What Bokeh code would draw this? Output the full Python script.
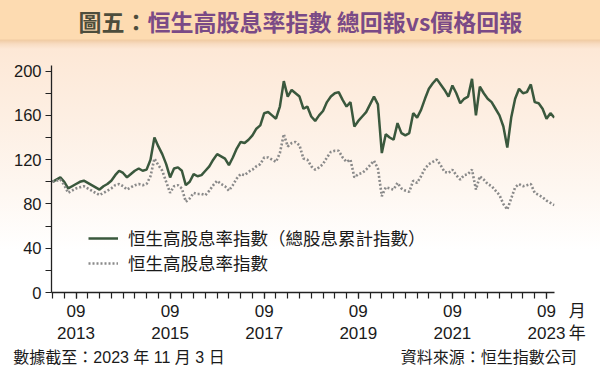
from bokeh.plotting import figure
from bokeh.models import (FixedTicker, Label, Legend, LegendItem,
                          ColumnDataSource, Range1d)
from bokeh.embed import file_html
from bokeh.resources import INLINE

# month index: 0 = Jan 2013
months = list(range(2, 131))

total_return = [
    100, 102, 104, 100, 94, 96, 98, 100, 101, 99,
    97, 95, 93, 96, 98, 101, 106, 110, 108, 104,
    107, 110, 112, 110, 111, 120, 140, 132, 125, 116,
    104, 112, 113, 110, 97, 100, 107, 105, 106, 110,
    114, 120, 125, 123, 121, 115, 122, 130, 136, 135,
    138, 142, 148, 151, 162, 163, 160, 157, 168, 191,
    177, 183, 180, 177, 166, 168, 159, 155, 160, 164,
    172, 177, 180, 181, 174, 168, 172, 150, 155, 159,
    163, 170, 177, 170, 126, 143, 140, 138, 153, 144,
    142, 144, 162, 158, 165, 175, 184, 189, 193, 188,
    183, 177, 187, 180, 171, 175, 177, 193, 160, 186,
    180, 175, 172, 166, 160, 150, 131, 158, 175, 184,
    180, 181, 188, 172, 171, 166, 157, 162, 158,
]

price_index = [
    100, 101, 102, 97, 90, 92, 94, 95, 96, 94,
    92, 90, 88, 90, 92, 94, 97, 98, 96, 93,
    95, 97, 98, 97, 98, 105, 121, 115, 110, 100,
    90, 96, 97, 94, 82, 85, 90, 89, 89, 88,
    92, 97, 101, 98, 96, 92, 97, 103, 107, 106,
    109, 111, 114, 116, 122, 122, 120, 118, 126, 143,
    132, 135, 136, 133, 121, 120, 114, 111, 113, 116,
    122, 127, 128, 128, 122, 118, 120, 104, 107, 108,
    111, 115, 119, 112, 87, 95, 94, 93, 99, 94,
    92, 91, 101, 99, 105, 112, 116, 118, 120, 115,
    109, 108, 111, 106, 102, 106, 107, 111, 93, 105,
    102, 98, 96, 92, 88, 80, 75, 85, 95, 98,
    96, 97, 98, 90, 88, 86, 83, 81, 79,
]

x_ticks = [8, 32, 56, 80, 104, 128]
x_tick_labels = ["09\n2013", "09\n2015", "09\n2017", "09\n2019", "09\n2021",
                 "\u2003\u2002\u200509\u2002\u2005月\n\u2003\u20092023\u2009年"]
x_minor = list(range(2, 131, 3))
y_ticks = [0, 40, 80, 120, 160, 200]
y_minor = [20, 60, 100, 140, 180]

series_names = ["恒生高股息率指數（總股息累計指數）", "恒生高股息率指數"]
title_prefix = "圖五："
title_main = "恒生高股息率指數 總回報vs價格回報"
footer_left = "數據截至：2023 年 11 月 3 日"
footer_right = "資料來源：恒生指數公司"
footer = footer_left + "\u3000" * 10 + "\u2002\u2002" + footer_right + "\u3000"

W, H = 600, 376
p = figure(width=W, height=H, output_backend="svg", toolbar_location=None,
           x_range=Range1d(1.75, 130.04), y_range=Range1d(0, 263.8),
           min_border_left=51, min_border_right=46, min_border_top=0,
           min_border_bottom=84)
p.title.visible = False
p.background_fill_alpha = 0
p.border_fill_alpha = 0
p.outline_line_color = None
p.xgrid.visible = False
p.ygrid.visible = False
p.styles = {"background": "linear-gradient(to bottom, #fddbb1 0px, #fddbb1 39px, "
                          "#f0cba3 40px, #f8dcc2 44px, #fde8d6 49px, #fdefe3 120px, "
                          "#fef7f1 190px, #ffffff 250px, #ffffff 100%)"}

src = ColumnDataSource(dict(x=months, tr=total_return, pr=price_index))
r_tr = p.line("x", "tr", source=src, line_color="#3a583d", line_width=2.5)
r_pr = p.line("x", "pr", source=src, line_color="#8a8a8a", line_width=2.6, line_dash="2 2")

for ax in (p.xaxis[0], p.yaxis[0]):
    ax.axis_line_color = "#222222"
    ax.axis_line_width = 1.3
    ax.major_tick_line_color = "#222222"
    ax.minor_tick_line_color = "#222222"
    ax.major_tick_line_width = 1.2
    ax.minor_tick_line_width = 1.2
    ax.major_tick_in = 0
    ax.minor_tick_in = 0
    ax.major_tick_out = 6
    ax.minor_tick_out = 6
    ax.major_label_text_font = "Liberation Sans, Noto Sans CJK TC"
    ax.major_label_text_color = "#1a1a1a"
    ax.major_label_standoff = 4

p.xaxis.ticker = FixedTicker(ticks=x_ticks, minor_ticks=x_minor)
p.xaxis.major_label_overrides = {k: v for k, v in zip(x_ticks, x_tick_labels)}
p.xaxis.major_label_text_font_size = "17px"
p.xaxis.major_label_standoff = 3
p.xaxis.axis_label = footer
p.xaxis.axis_label_text_font = "Liberation Sans, Noto Sans CJK TC"
p.xaxis.axis_label_text_font_size = "16px"
p.xaxis.axis_label_text_font_style = "normal"
p.xaxis.axis_label_text_color = "#1a1a1a"
p.xaxis.axis_label_standoff = 3
p.yaxis.ticker = FixedTicker(ticks=y_ticks, minor_ticks=y_minor)
p.yaxis.bounds = (0, 205)
p.yaxis.major_label_text_font_size = "16.5px"

legend = Legend(items=[LegendItem(label=series_names[0], renderers=[r_tr]),
                       LegendItem(label=series_names[1], renderers=[r_pr])],
                location=(37, 17), border_line_color=None, background_fill_alpha=0,
                padding=0, margin=0, spacing=-1, glyph_width=30, glyph_height=20,
                label_height=20, label_standoff=10, label_text_font="Noto Sans CJK TC",
                label_text_font_size="17.5px", label_text_color="#1a1a1a")
p.add_layout(legend)

cjk = "Noto Sans CJK TC"
p.add_layout(Label(x=78, y=20.5, x_units="canvas", y_units="canvas", text=title_prefix,
                   text_font=cjk, text_font_style="bold", text_font_size="23px",
                   text_color="#4d4d3c", text_baseline="middle", text_align="left"))
p.add_layout(Label(x=147, y=20.5, x_units="canvas", y_units="canvas", text=title_main,
                   text_font=cjk, text_font_style="bold", text_font_size="23px",
                   text_color="#7a4a86", text_baseline="middle", text_align="left"))

open("out.html", "w").write(file_html(p, INLINE))
